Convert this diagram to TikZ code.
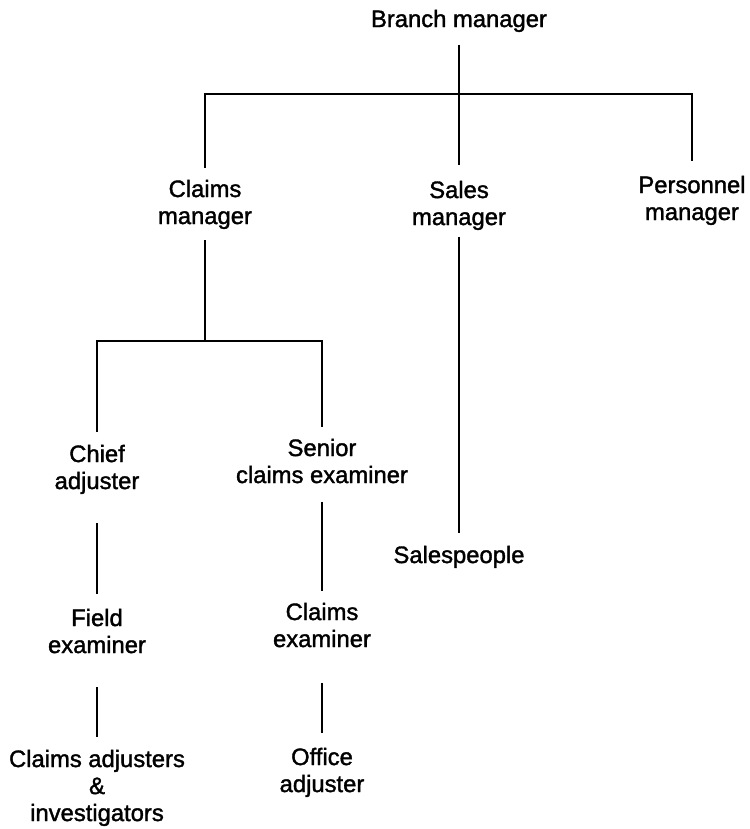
\documentclass[tikz,border=0pt]{standalone}
\usepackage{fontspec}
\setmainfont{Liberation Sans}[FakeBold=1.5]
\begin{document}
\begin{tikzpicture}[x=1pt,y=-1pt,
  lbl/.style={anchor=north, inner sep=0pt, outer sep=0pt, align=center,
              font=\fontsize{23.8}{27}\selectfont},
  link/.style={draw=black, line width=2.2pt}]
\useasboundingbox (0,0) rectangle (749,829);

% --- people ---
\node[lbl] (bm)  at (459,9.8)   {Branch manager};
\node[lbl] (cm)  at (205,179.8) {Claims\\manager};
\node[lbl] (sm)  at (459,180.8) {Sales\\manager};
\node[lbl] (pm)  at (692,175.8) {Personnel\\manager};
\node[lbl] (ca)  at (97,444.8)  {Chief\\adjuster};
\node[lbl] (sce) at (322,438.8) {Senior\\claims examiner};
\node[lbl] (sp)  at (459,545.8) {Salespeople};
\node[lbl] (fe)  at (97,608.8)  {Field\\examiner};
\node[lbl] (ce)  at (322,602.8) {Claims\\examiner};
\node[lbl] (cai) at (97,749.8)  {Claims adjusters\\\&\\investigators};
\node[lbl] (oa)  at (322,747.8) {Office\\adjuster};

% --- junctions of the reporting bars ---
\coordinate (jL)  at (205,94);
\coordinate (jR)  at (692,94);
\coordinate (jC)  at (205,341);
\coordinate (jCL) at (97,341);
\coordinate (jCR) at (322,341);

% --- top level ---
\draw[link, shorten <=13pt, shorten >=15.8pt] (bm.south) -- (sm.north);
\draw[link, shorten <=11.8pt, shorten >=14.8pt] (cm.north) -- (jL) -- (jR) -- (pm.north);

% --- claims branch ---
\draw[link, shorten <=11pt] (cm.south) -- (jC);
\draw[link, shorten <=12.8pt, shorten >=11.8pt] (ca.north) -- (jCL) -- (jCR) -- (sce.north);
\draw[link, shorten <=29pt, shorten >=14.8pt] (ca.south) -- (fe.north);
\draw[link, shorten <=33.7pt, shorten >=12.8pt] (fe.south) -- (cai.north);
\draw[link, shorten <=18.7pt, shorten >=11.8pt] (sce.south) -- (ce.north);
\draw[link, shorten <=35.7pt, shorten >=14.8pt] (ce.south) -- (oa.north);

% --- sales branch ---
\draw[link, shorten <=7pt, shorten >=12.8pt] (sm.south) -- (sp.north);
\end{tikzpicture}
\end{document}
